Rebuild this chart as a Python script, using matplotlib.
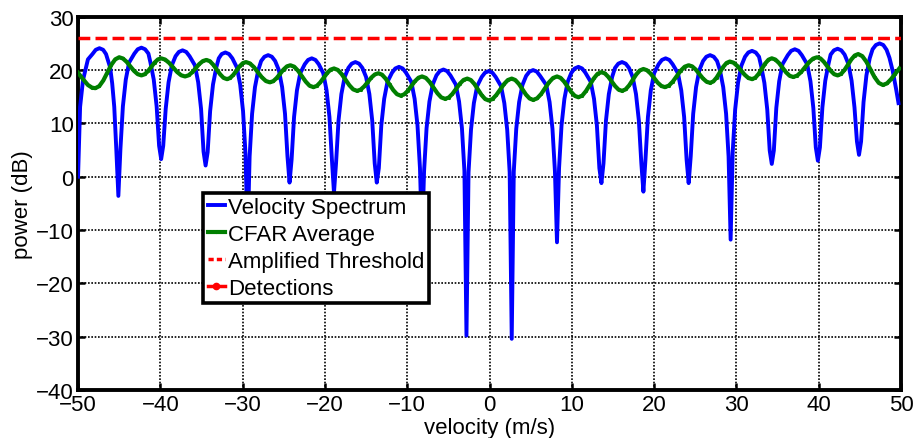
#!/usr/bin/env python3

import matplotlib
matplotlib.use('Agg')
import matplotlib.pyplot as plt
from matplotlib.lines import Line2D

# velocity spectrum (one lobe per line)
spectrumVel = [
    -50.0, -49.75, -49.4, -48.8, -48.25, -47.85, -47.4, -46.95, -46.6, -46.1, -45.85, -45.6, -45.35,
    -45.1, -44.85, -44.55, -44.2, -43.8, -43.15, -42.75, -42.3, -41.85, -41.45, -41.2, -40.8, -40.45, -40.15,
    -39.9, -39.65, -39.35, -39.0, -38.6, -38.15, -37.75, -37.3, -36.85, -36.45, -35.8, -35.4, -35.05, -34.75,
    -34.5, -34.25, -33.95, -33.6, -33.2, -32.9, -32.55, -32.1, -31.65, -31.25, -30.7, -30.3, -29.95, -29.65,
    -29.4, -29.15, -28.85, -28.5, -28.1, -27.75, -27.35, -26.9, -26.45, -26.05, -25.6, -25.2, -24.85, -24.55,
    -24.3, -24.05, -23.75, -23.4, -23.0, -22.45, -22.05, -21.6, -21.15, -20.75, -20.2, -19.8, -19.45, -19.15,
    -18.9, -18.65, -18.35, -18.0, -17.6, -17.15, -16.75, -16.3, -15.85, -15.45, -15.0, -14.6, -14.25, -13.95,
    -13.7, -13.45, -13.15, -12.8, -12.4, -11.85, -11.45, -11.0, -10.55, -10.15, -9.5, -9.1, -8.75, -8.45,
    -8.2, -7.95, -7.65, -7.3, -6.9, -6.45, -6.05, -5.6, -5.15, -4.75, -4.1, -3.7, -3.35, -3.05,
    -2.8, -2.55, -2.25, -1.9, -1.5, -0.95, -0.55, -0.1, 0.35, 0.75, 1.4, 1.8, 2.15, 2.45,
    2.7, 2.95, 3.25, 3.6, 4.0, 4.45, 4.85, 5.3, 5.75, 6.15, 6.9, 7.3, 7.65, 7.95,
    8.2, 8.45, 8.75, 9.1, 9.5, 9.95, 10.35, 10.8, 11.25, 11.65, 12.3, 12.7, 13.05, 13.35,
    13.6, 13.85, 14.15, 14.5, 14.9, 15.25, 15.65, 16.1, 16.55, 16.95, 17.4, 17.8, 18.15, 18.45,
    18.7, 18.95, 19.25, 19.6, 20.0, 20.55, 20.95, 21.4, 21.85, 22.25, 22.9, 23.3, 23.65, 23.95,
    24.2, 24.45, 24.75, 25.1, 25.5, 25.95, 26.35, 26.8, 27.25, 27.65, 28.0, 28.4, 28.75, 29.05,
    29.3, 29.55, 29.85, 30.2, 30.6, 31.05, 31.45, 31.9, 32.35, 32.75, 33.0, 33.4, 33.75, 34.05,
    34.3, 34.55, 34.85, 35.2, 35.6, 36.25, 36.65, 37.1, 37.55, 37.95, 38.6, 39.0, 39.35, 39.65,
    39.9, 40.15, 40.45, 40.8, 41.2, 41.45, 41.85, 42.3, 42.75, 43.15, 43.6, 44.0, 44.35, 44.65,
    44.9, 45.15, 45.45, 45.8, 46.2, 46.55, 46.95, 47.4, 47.85, 48.25, 48.6, 49.0, 49.4, 49.7,
]
spectrumDb = [
    0.0, 13.1, 18.1, 22.0, 23.0, 23.8, 24.1, 23.8, 23.0, 20.5, 17.5, 13.1, 5.1,
    -3.6, 5.2, 13.2, 18.2, 21.4, 23.1, 23.9, 24.2, 23.9, 23.1, 21.4, 18.2, 13.2, 5.8,
    3.3, 5.8, 12.7, 17.7, 20.9, 22.6, 23.4, 23.7, 23.4, 22.6, 20.9, 17.7, 12.7, 4.7,
    2.1, 4.6, 12.3, 17.3, 20.5, 22.2, 23.0, 23.3, 23.0, 22.2, 20.5, 17.3, 12.3, 4.3,
    -12.0, 3.8, 11.8, 16.8, 20.0, 21.7, 22.5, 22.8, 22.5, 21.7, 20.0, 16.8, 11.8, 3.8,
    -1.1, 3.2, 11.2, 16.2, 19.4, 21.1, 21.9, 22.2, 21.9, 21.1, 19.4, 16.2, 11.2, 3.2,
    -3.0, 2.5, 10.5, 15.5, 18.7, 20.4, 21.2, 21.5, 21.2, 20.4, 18.7, 15.5, 10.5, 2.5,
    -1.1, 1.6, 9.6, 14.6, 17.8, 19.5, 20.3, 20.6, 20.3, 19.5, 17.8, 14.6, 9.6, 1.6,
    -12.0, 1.1, 9.1, 14.1, 17.3, 19.0, 19.8, 20.1, 19.8, 19.0, 17.3, 14.1, 9.1, 1.1,
    -29.8, 0.8, 8.8, 13.8, 17.0, 18.7, 19.5, 19.8, 19.5, 18.7, 17.0, 13.8, 8.8, 0.8,
    -30.4, 1.0, 9.0, 14.0, 17.2, 18.9, 19.7, 20.0, 19.7, 18.9, 17.2, 14.0, 9.0, 1.0,
    -12.3, 1.6, 9.6, 14.6, 17.8, 19.5, 20.3, 20.6, 20.3, 19.5, 17.8, 14.6, 9.6, 1.6,
    -1.2, 2.5, 10.5, 15.5, 18.7, 20.4, 21.2, 21.5, 21.2, 20.4, 18.7, 15.5, 10.5, 2.5,
    -2.8, 3.2, 11.2, 16.2, 19.4, 21.1, 21.9, 22.2, 21.9, 21.1, 19.4, 16.2, 11.2, 3.2,
    -1.2, 3.8, 11.8, 16.8, 20.0, 21.7, 22.5, 22.8, 22.5, 21.7, 20.0, 16.8, 11.8, 3.8,
    -11.8, 4.6, 12.6, 17.6, 20.8, 22.5, 23.3, 23.6, 23.3, 22.5, 20.8, 17.6, 12.6, 4.9,
    2.4, 4.9, 12.9, 17.9, 21.1, 22.8, 23.6, 23.9, 23.6, 22.8, 21.1, 17.9, 12.9, 5.5,
    3.0, 5.5, 13.0, 18.0, 21.2, 22.9, 23.7, 24.0, 23.7, 22.9, 21.2, 18.0, 13.0, 6.6,
    4.1, 6.6, 14.0, 19.0, 22.2, 23.9, 24.7, 25.0, 24.7, 23.8, 22.3, 19.8, 16.5, 13.8,
]

# CFAR average (one half period per line)
cfarVel = [
    -50.0, -49.4, -48.8, -48.3,
    -47.9, -47.42, -46.93, -46.45, -45.97, -45.48,
    -45.0, -44.55, -44.1, -43.65, -43.2, -42.75,
    -42.3, -41.9, -41.5, -41.1, -40.7, -40.3,
    -39.9, -39.42, -38.93, -38.45, -37.97, -37.48,
    -37.0, -36.57, -36.13, -35.7, -35.27, -34.83,
    -34.4, -33.98, -33.57, -33.15, -32.73, -32.32,
    -31.9, -31.52, -31.13, -30.75, -30.37, -29.98,
    -29.6, -29.12, -28.63, -28.15, -27.67, -27.18,
    -26.7, -26.28, -25.87, -25.45, -25.03, -24.62,
    -24.2, -23.73, -23.27, -22.8, -22.33, -21.87,
    -21.4, -20.98, -20.57, -20.15, -19.73, -19.32,
    -18.9, -18.43, -17.97, -17.5, -17.03, -16.57,
    -16.1, -15.67, -15.23, -14.8, -14.37, -13.93,
    -13.5, -13.05, -12.6, -12.15, -11.7, -11.25,
    -10.8, -10.37, -9.93, -9.5, -9.07, -8.63,
    -8.2, -7.73, -7.27, -6.8, -6.33, -5.87,
    -5.4, -4.95, -4.5, -4.05, -3.6, -3.15,
    -2.7, -2.27, -1.83, -1.4, -0.97, -0.53,
    -0.1, 0.37, 0.83, 1.3, 1.77, 2.23,
    2.7, 3.13, 3.57, 4.0, 4.43, 4.87,
    5.3, 5.78, 6.27, 6.75, 7.23, 7.72,
    8.2, 8.63, 9.07, 9.5, 9.93, 10.37,
    10.8, 11.27, 11.73, 12.2, 12.67, 13.13,
    13.6, 14.02, 14.43, 14.85, 15.27, 15.68,
    16.1, 16.53, 16.97, 17.4, 17.83, 18.27,
    18.7, 19.13, 19.57, 20.0, 20.43, 20.87,
    21.3, 21.78, 22.27, 22.75, 23.23, 23.72,
    24.2, 24.63, 25.07, 25.5, 25.93, 26.37,
    26.8, 27.2, 27.6, 28.0, 28.4, 28.8,
    29.2, 29.65, 30.1, 30.55, 31.0, 31.45,
    31.9, 32.3, 32.7, 33.1, 33.5, 33.9,
    34.3, 34.73, 35.17, 35.6, 36.03, 36.47,
    36.9, 37.38, 37.87, 38.35, 38.83, 39.32,
    39.8, 40.22, 40.63, 41.05, 41.47, 41.88,
    42.3, 42.72, 43.13, 43.55, 43.97, 44.38,
    44.8, 45.3, 45.8, 46.3, 46.8, 47.3,
    47.8, 48.3, 48.8, 49.3, 49.8,
]
cfarDb = [
    19.5, 18.3, 17.2, 16.7,
    16.6, 16.99, 18.05, 19.5, 20.95, 22.01,
    22.4, 22.17, 21.55, 20.7, 19.85, 19.23,
    19.0, 19.21, 19.8, 20.6, 21.4, 21.99,
    22.2, 21.97, 21.35, 20.5, 19.65, 19.03,
    18.8, 19.01, 19.58, 20.35, 21.13, 21.69,
    21.9, 21.66, 21.0, 20.1, 19.2, 18.54,
    18.3, 18.51, 19.1, 19.9, 20.7, 21.29,
    21.5, 21.25, 20.55, 19.6, 18.65, 17.95,
    17.7, 17.91, 18.5, 19.3, 20.1, 20.69,
    20.9, 20.63, 19.88, 18.85, 17.83, 17.07,
    16.8, 17.03, 17.68, 18.55, 19.43, 20.07,
    20.3, 20.02, 19.25, 18.2, 17.15, 16.38,
    16.1, 16.32, 16.93, 17.75, 18.58, 19.18,
    19.4, 19.12, 18.35, 17.3, 16.25, 15.48,
    15.2, 15.44, 16.1, 17.0, 17.9, 18.56,
    18.8, 18.52, 17.75, 16.7, 15.65, 14.88,
    14.6, 14.85, 15.55, 16.5, 17.45, 18.15,
    18.4, 18.13, 17.38, 16.35, 15.33, 14.57,
    14.3, 14.57, 15.33, 16.35, 17.38, 18.13,
    18.4, 18.13, 17.4, 16.4, 15.4, 14.67,
    14.4, 14.69, 15.5, 16.6, 17.7, 18.51,
    18.8, 18.54, 17.83, 16.85, 15.88, 15.16,
    14.9, 15.21, 16.08, 17.25, 18.43, 19.29,
    19.6, 19.37, 18.73, 17.85, 16.98, 16.33,
    16.1, 16.37, 17.13, 18.15, 19.18, 19.93,
    20.2, 19.97, 19.35, 18.5, 17.65, 17.03,
    16.8, 17.07, 17.83, 18.85, 19.88, 20.63,
    20.9, 20.68, 20.08, 19.25, 18.43, 17.82,
    17.6, 17.87, 18.6, 19.6, 20.6, 21.33,
    21.6, 21.38, 20.78, 19.95, 19.13, 18.52,
    18.3, 18.56, 19.28, 20.25, 21.23, 21.94,
    22.2, 21.97, 21.33, 20.45, 19.58, 18.93,
    18.7, 18.95, 19.63, 20.55, 21.48, 22.15,
    22.4, 22.17, 21.55, 20.7, 19.85, 19.23,
    19.0, 19.27, 20.0, 21.0, 22.0, 22.73,
    23.0, 22.61, 21.55, 20.1, 18.65, 17.59,
    17.2, 17.5, 18.3, 19.3, 20.3,
]

thresholdVel = [-50.0, 50.0]
thresholdDb = [26.0, 26.0]

# no detections in this frame
detectionVel = []
detectionDb = []

xTicks = [-50, -40, -30, -20, -10, 0, 10, 20, 30, 40, 50]
yTicks = [-40, -30, -20, -10, 0, 10, 20, 30]

plt.rcParams['font.family'] = ['Liberation Sans', 'DejaVu Sans']
plt.rcParams['font.size'] = 16

fig = plt.figure(figsize=(9.16, 4.39), dpi=100)
ax = fig.add_axes([0.0852, 0.1093, 0.8984, 0.8503])

specLine, = ax.plot(spectrumVel, spectrumDb, color='#0000ff', linewidth=2.8,
                    solid_joinstyle='round', zorder=3)
cfarLine, = ax.plot(cfarVel, cfarDb, color='#007f00', linewidth=3.0, marker='.', markersize=2.5,
                    solid_joinstyle='round', zorder=3)
ax.plot(thresholdVel, thresholdDb, color='#ff0000', linewidth=2.5, linestyle=(0, (3.4, 1.5)), zorder=3)
detLine, = ax.plot(detectionVel, detectionDb, color='#ff0000', linewidth=2.5, marker='.', markersize=9,
                   zorder=3)
# shorter dashes for the legend sample, like the original
threshHandle = Line2D([], [], color='#ff0000', linewidth=2.5, linestyle=(0, (1.5, 0.9)))

ax.set_xlim(-50, 50)
ax.set_ylim(-40, 30)
ax.set_xticks(xTicks)
ax.set_yticks(yTicks)
ax.grid(True, color='black', linestyle=(0, (1, 1)), linewidth=1.2)
ax.set_axisbelow(True)
ax.tick_params(direction='in', length=5, width=1.8, top=True, right=True, pad=3)
for spine in ax.spines.values():
    spine.set_linewidth(2.8)

ax.set_xlabel('velocity (m/s)', labelpad=1)
ax.set_ylabel('power (dB)', labelpad=2)

leg = ax.legend([specLine, cfarLine, threshHandle, detLine],
                ['Velocity Spectrum', 'CFAR Average', 'Amplified Threshold', 'Detections'],
                loc='lower left', bbox_to_anchor=(0.152, 0.233), handlelength=0.8,
                handletextpad=0.12, borderpad=0.2, labelspacing=0.26, borderaxespad=0,
                fancybox=False, framealpha=1, edgecolor='black')
leg.get_frame().set_linewidth(2.6)
leg.set_zorder(5)

plt.savefig('out.png', dpi=100)
plt.close()
